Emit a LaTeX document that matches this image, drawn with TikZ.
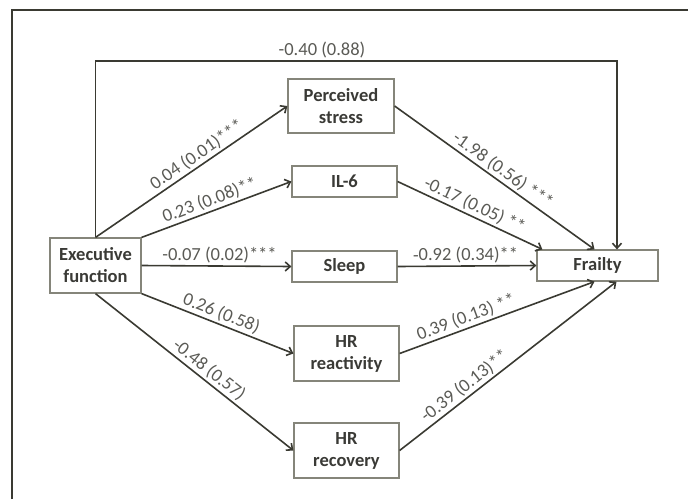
\documentclass[tikz,border=0pt]{standalone}
\usepackage{fontspec}
\setmainfont{Carlito}
\usetikzlibrary{arrows.meta}
\definecolor{linegray}{HTML}{3A3A32}
\definecolor{boxgray}{HTML}{85857A}
\definecolor{labelgray}{HTML}{5A5A55}
\definecolor{nodetext}{HTML}{3A3A36}

\begin{document}
\begin{tikzpicture}[x=1pt, y=-1pt,
    box/.style={draw=boxgray, line width=1.2pt, fill=white, align=center,
        inner sep=0pt, minimum width=105pt, minimum height=31pt,
        font=\fontsize{18.5}{22}\selectfont\bfseries, text=nodetext},
    link/.style={draw=linegray, line width=1.6pt,
        -{Straight Barb[length=5pt,width=9pt]}},
    coef/.style={font=\fontsize{18.5}{22}\selectfont, text=labelgray,
        sloped, above, inner sep=2pt}
]
    \useasboundingbox (0,0) rectangle (688,499);
    \draw[linegray, line width=1.2pt] (12,499) -- (12,10) -- (688,10);

    \node[box, minimum width=91pt, minimum height=55pt] (exec) at (95.5,265.5) {Executive\\function};
    \node[box, minimum width=106pt, minimum height=54pt] (stress) at (341,106) {Perceived\\stress};
    \node[box] (il6) at (344.5,181.5) {IL-6};
    \node[box] (sleep) at (344.5,266.5) {Sleep};
    \node[box, minimum width=121pt] (frailty) at (597.5,265.5) {Frailty};
    \node[box, minimum height=55pt] (hrreact) at (346.5,353.5) {HR\\reactivity};
    \node[box, minimum height=55pt] (hrrecov) at (346.5,450.5) {HR\\recovery};

    % direct path
    \coordinate (ctop) at (617,61);
    \draw[link] (exec.north) |- (ctop) -- (ctop |- frailty.north);
    \node[font=\fontsize{18.5}{22}\selectfont, text=labelgray] (direct) at (322,50) {-0.40 (0.88)};

    % a paths
    \draw[link] (exec.north) -- node[coef, pos=0.56] {0.04 (0.01)***} (stress.west);
    \draw[link] (exec.north east) -- node[coef, pos=0.48] {0.23 (0.08)**} (il6.west);
    \draw[link] (exec.east) -- node[coef, pos=0.52] {-0.07 (0.02)***} (sleep.west);
    \draw[link] (exec.south east) -- node[coef, pos=0.5] {0.26 (0.58)} (hrreact.west);
    \draw[link] (exec.south) -- node[coef, pos=0.54] {-0.48 (0.57)} (hrrecov.west);

    % b paths
    \draw[link] (stress.east) -- node[coef, pos=0.51] {-1.98 (0.56) ***} ([xshift=-3pt]frailty.north);
    \draw[link] (il6.east) -- node[coef, pos=0.5] {-0.17 (0.05) **} ([xshift=6pt]frailty.north west);
    \draw[link] (sleep.east) -- node[coef, pos=0.49] {-0.92 (0.34)**} (frailty.west);
    \draw[link] (hrreact.east) -- node[coef, pos=0.36] {0.39 (0.13) **} ([xshift=-3pt]frailty.south);
    \draw[link] (hrrecov.east) -- node[coef, pos=0.33] {-0.39 (0.13)**} ([xshift=19pt]frailty.south);
\end{tikzpicture}
\end{document}
